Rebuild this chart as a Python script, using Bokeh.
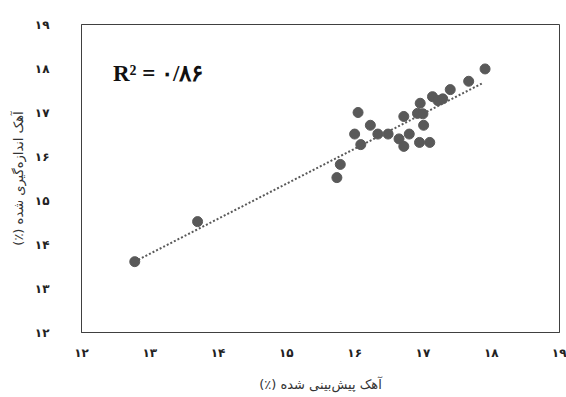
from bokeh.plotting import figure
from bokeh.models import FixedTicker, ColumnDataSource, Label, Range1d
from bokeh.embed import file_html
from bokeh.resources import INLINE

# Data
predicted = [12.78, 13.70, 15.74, 15.79, 16.00, 16.05, 16.09, 16.23, 16.34, 16.49,
             16.65, 16.72, 16.72, 16.80, 16.92, 17.00, 16.96, 17.01, 16.95, 17.10,
             17.14, 17.22, 17.29, 17.40, 17.67, 17.91]
measured = [13.61, 14.52, 15.52, 15.82, 16.51, 17.00, 16.27, 16.71, 16.51, 16.51,
            16.40, 16.91, 16.23, 16.51, 16.98, 16.97, 17.21, 16.71, 16.32, 16.32,
            17.36, 17.27, 17.31, 17.52, 17.71, 17.99]
trend_slope = 0.796
trend_intercept = 3.44
trend_x = [12.78, 17.88]
tick_values = [12, 13, 14, 15, 16, 17, 18, 19]
tick_labels = ["۱۲", "۱۳", "۱۴", "۱۵", "۱۶", "۱۷", "۱۸", "۱۹"]
r2_text = "R² = ۰/۸۶"
x_title = "آهک پیش‌بینی شده (٪)"
y_title = "آهک اندازه‌گیری شده (٪)"

RLM = "\u200f"

p = figure(width=566, height=396, output_backend="svg", toolbar_location=None,
           x_range=Range1d(12, 19), y_range=Range1d(12, 19),
           min_border_left=81, min_border_right=7, min_border_top=24, min_border_bottom=64)
p.background_fill_color = "white"
p.border_fill_color = "white"
p.outline_line_color = "#404040"
p.outline_line_width = 1
p.xgrid.visible = False
p.ygrid.visible = False

trend_y = [trend_slope * v + trend_intercept for v in trend_x]
p.line(trend_x, trend_y, line_color="#595959", line_width=2, line_dash="2 2")

src = ColumnDataSource(dict(x=predicted, y=measured))
p.scatter("x", "y", source=src, size=10, fill_color="#595959", line_color="#595959")

overrides = {v: l for v, l in zip(tick_values, tick_labels)}
for ax in (p.xaxis[0], p.yaxis[0]):
    ax.ticker = FixedTicker(ticks=tick_values)
    ax.major_label_overrides = overrides
    ax.major_tick_line_color = None
    ax.minor_tick_line_color = None
    ax.axis_line_color = "#404040"
    ax.axis_line_width = 1
    ax.major_label_text_font = "DejaVu Sans"
    ax.major_label_text_font_style = "bold"
    ax.major_label_text_font_size = "12px"
    ax.major_label_text_color = "#222222"
    ax.axis_label_text_font = "DejaVu Sans"
    ax.axis_label_text_font_style = "normal"
    ax.axis_label_text_font_size = "13px"
    ax.axis_label_text_color = "#333333"

p.xaxis.axis_label = RLM + x_title + RLM
p.yaxis.axis_label = RLM + y_title + RLM
p.xaxis.major_label_standoff = 7
p.xaxis.axis_label_standoff = 14
p.yaxis.major_label_standoff = 26
p.yaxis.axis_label_standoff = 6
p.yaxis.major_label_orientation = 0

lbl = Label(x=12.46, y=17.89, text=r2_text, text_font="Liberation Serif",
            text_font_style="bold", text_font_size="23px", text_color="#111111",
            text_baseline="middle")
p.add_layout(lbl)

open("out.html", "w").write(file_html(p, INLINE))
